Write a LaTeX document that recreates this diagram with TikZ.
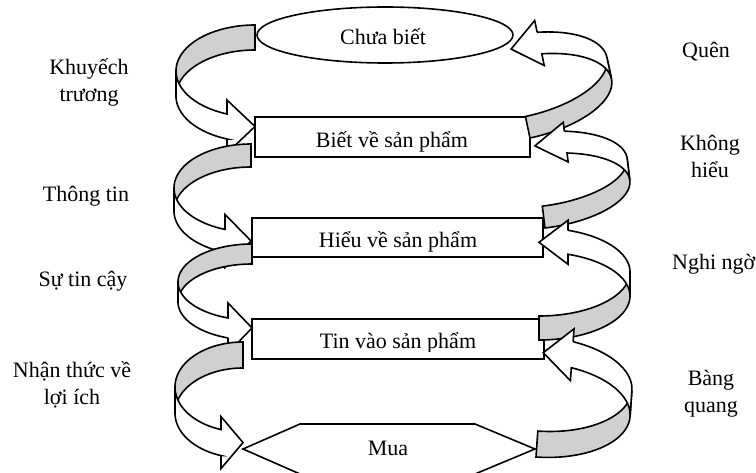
\documentclass[tikz,border=0pt]{standalone}
\usepackage{fontspec}
\setmainfont{Liberation Serif}
\usetikzlibrary{shapes.geometric}
\definecolor{bandgrey}{RGB}{208,208,208}
\tikzset{
  shapeline/.style={draw=black, line width=1.6pt},
  darkband/.style={shapeline, fill=bandgrey, line join=miter},
  lightband/.style={shapeline, fill=white, line join=miter},
  boxst/.style={shapeline, fill=white, rectangle, inner sep=0pt, outer sep=0pt},
  lbl/.style={inner sep=0pt, font=\fontsize{22}{27}\selectfont, align=center},
}
% curved ribbon arrow (Word style), local origin = top of the shaded end
% #1 width, #2 half height of ellipse, #3 band thickness, #4 head length, #5 barb
\newcommand\curvedband[5]{%
  \pgfmathsetmacro\ta{acos(-#4/#1)}%
  \pgfmathsetmacro\yfive{#2+#2*sin(\ta)}%
  \pgfmathsetmacro\yseven{\yfive+#3}%
  \pgfmathsetmacro\yfour{\yfive-#5}%
  \pgfmathsetmacro\yeight{\yseven+#5}%
  \pgfmathsetmacro\ysix{(\yfour+\yeight)/2}%
  \filldraw[darkband] plot[domain=270:180,samples=40] ({#1*cos(\x)},{#2+#2*sin(\x)})
     -- plot[domain=180:270,samples=40] ({#1*cos(\x)},{#2+#3+#2*sin(\x)}) -- cycle;
  \filldraw[lightband] plot[domain=180:\ta,samples=40] ({#1*cos(\x)},{#2+#2*sin(\x)})
     -- (-#4,\yfour) -- (0,\ysix) -- (-#4,\yeight) -- (-#4,\yseven)
     -- plot[domain=\ta:180,samples=40] ({#1*cos(\x)},{#2+#3+#2*sin(\x)}) -- cycle;
}
\begin{document}
\begin{tikzpicture}[x=1pt,y=-1pt]
\useasboundingbox (0,0) rectangle (756,473);
% stage shapes
\node[shapeline, ellipse, fill=white, minimum width=256pt, minimum height=56pt, inner sep=0pt] (chua) at (385,35) {};
\node[boxst, minimum width=275pt, minimum height=40pt] (biet) at (392.5,137) {};
\node[boxst, minimum width=291pt, minimum height=39pt] (hieu) at (397.5,237.5) {};
\node[boxst, minimum width=292pt, minimum height=40pt] (tin) at (398,339) {};
\draw[shapeline, fill=white] (243,449) coordinate (muaW) -- (300,424) -- (475,424) -- (535,449) coordinate (muaE) -- (475,474) -- (300,474) -- cycle;
% stage texts
\node[lbl, anchor=base] (tchua) at (383,45) {Chưa biết};
\begin{scope}
  \clip (255,117) rectangle (530,152);
  \node[lbl, anchor=base] (tbiet) at (392,148) {Biết về sản phẩm};
\end{scope}
\begin{scope}
  \clip (252,218) rectangle (543,252);
  \node[lbl, anchor=base] (thieu) at (398,248) {Hiểu về sản phẩm};
\end{scope}
\begin{scope}
  \clip (252,319) rectangle (544,352);
  \node[lbl, anchor=base] (ttin) at (398,349) {Tin vào sản phẩm};
\end{scope}
\node[lbl, anchor=base] (tmua) at (388,455) {Mua};
% side labels (base = baseline of the last line)
\node[lbl, anchor=base] (k1) at (89,102) {Khuyếch\\trương};
\node[lbl, anchor=base] (k2) at (86,202) {Thông tin};
\node[lbl, anchor=base] (k3) at (83,287) {Sự tin cậy};
\node[lbl, anchor=base] (k4) at (72,405) {Nhận thức về\\lợi ích};
\node[lbl, anchor=base] (q1) at (706,58) {Quên};
\node[lbl, anchor=base] (q2) at (710,178) {Không\\hiểu};
\node[lbl, anchor=base west] (q3) at (672,270) {Nghi ngờ};
\node[lbl, anchor=base] (q4) at (711,413) {Bàng\\quang};
% left curved arrows
\begin{scope}[shift={(255,25)}]\curvedband{79}{46}{25}{28}{14}\end{scope}
\begin{scope}[shift={(251,144)}]\curvedband{77}{44}{23}{26}{15}\end{scope}
\begin{scope}[shift={(252,244)}]\curvedband{74}{38}{20}{24}{15}\end{scope}
\begin{scope}[shift={(243,342)}]\curvedband{68}{45}{26}{22}{13}\end{scope}
% right curved arrows
\begin{scope}[shift={(530,138)}, rotate=192]\curvedband{92}{41}{22}{29}{12}\end{scope}
\begin{scope}[shift={(545,228)}, rotate=187]\curvedband{90}{37}{22}{31}{9}\end{scope}
\begin{scope}[shift={(539,340)}, rotate=180]\curvedband{91}{44}{24}{29}{10}\end{scope}
\begin{scope}[shift={(536,457)}, rotate=176]\curvedband{91}{47}{26}{29}{13}\end{scope}
\end{tikzpicture}
\end{document}
